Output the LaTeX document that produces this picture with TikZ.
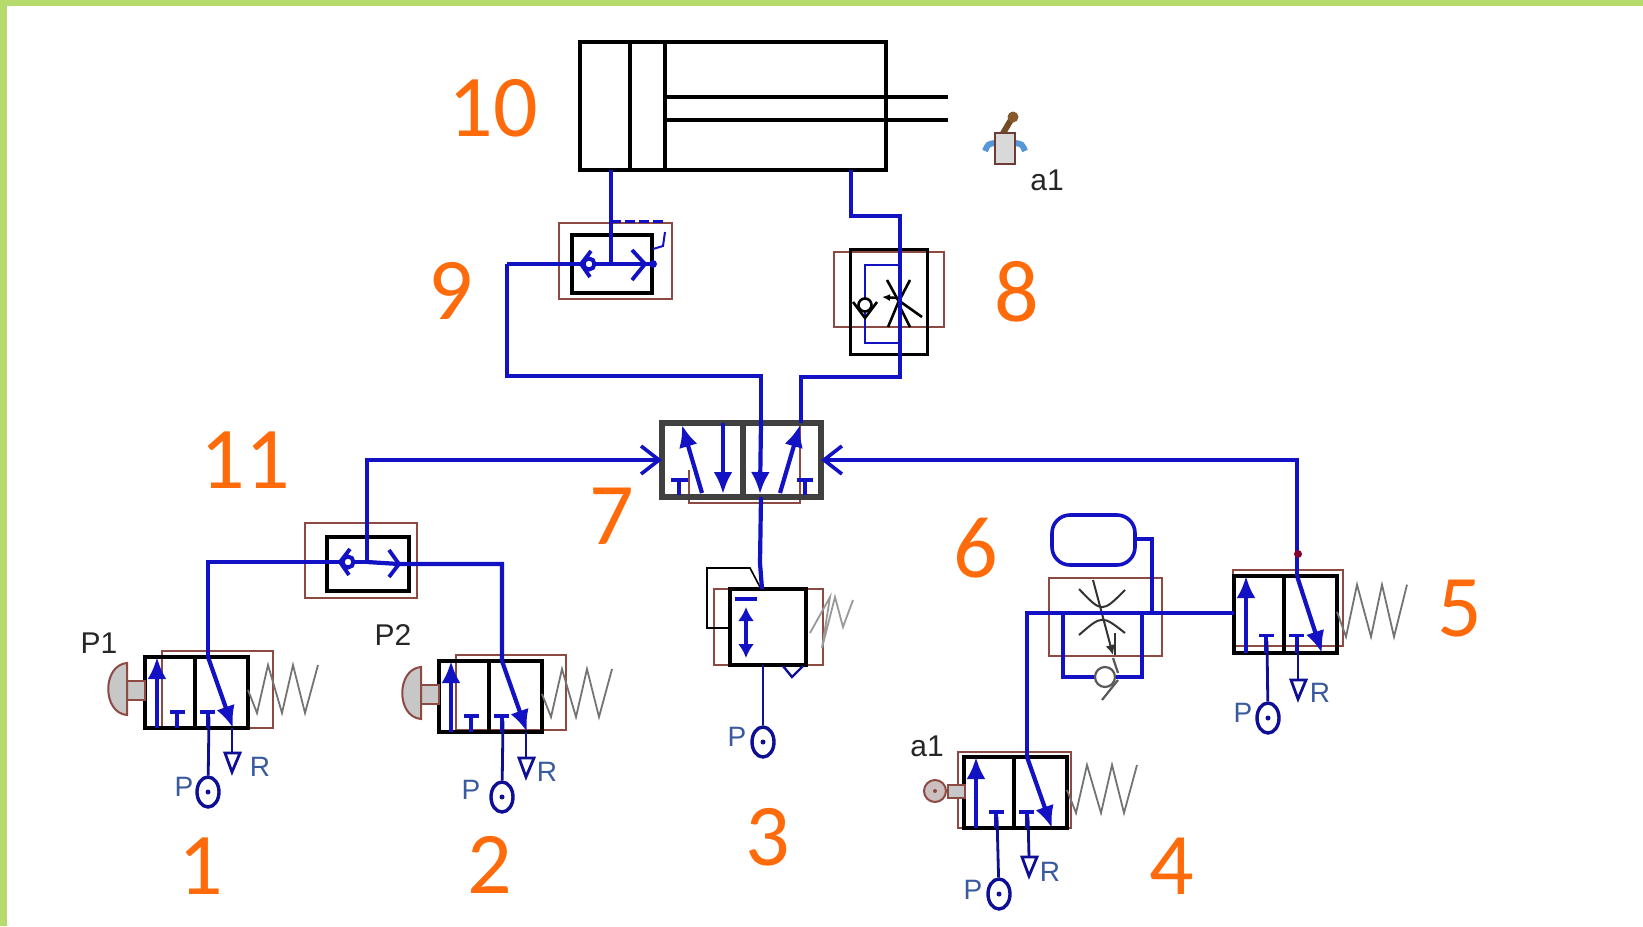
\documentclass[tikz,border=0pt]{standalone}
\usepackage{fontspec}
\setmainfont{Liberation Sans}
\newfontfamily\numfont{Carlito}
\usetikzlibrary{arrows.meta,shapes.geometric}
\definecolor{pipeblue}{HTML}{1212C4}
\definecolor{darkblue}{HTML}{0F0F96}
\definecolor{labelblue}{HTML}{3A5AA0}
\definecolor{orangenum}{HTML}{FF6A0A}
\definecolor{redline}{HTML}{8C4A42}
\definecolor{greenedge}{HTML}{B6DB6C}
\tikzset{
  pipe/.style={draw=pipeblue,line width=2.1pt,line join=miter},
  thinpipe/.style={draw=pipeblue,line width=1.7pt},
  feed/.style={draw=darkblue,line width=1.4pt},
  blackbox/.style={draw=black,line width=2pt,inner sep=0pt,outer sep=0pt,anchor=north west},
  redbox/.style={draw=redline,line width=.7pt},
  flow/.style={draw=pipeblue,line width=2.1pt,-{Latex[length=11pt,width=9.5pt]}},
  barb/.style={-{Straight Barb[length=9pt,width=14pt,line width=1.8pt]}},
  spring/.style={draw=black!55,line width=.9pt,line join=miter},
  num/.style={text=orangenum,font=\numfont\fontsize{44}{44}\selectfont,inner sep=0pt},
  tag/.style={text=black!85,font=\fontsize{15}{15}\selectfont,inner sep=0pt},
  port/.style={text=labelblue,font=\fontsize{14}{14}\selectfont,inner sep=0pt},
  psrc/.style={shape=ellipse,draw=darkblue,line width=1.7pt,minimum width=11pt,minimum height=15pt,inner sep=0pt,fill=white},
  valve/.pic={
    \draw[black,line width=2.1pt] (12,0) rectangle (115,71) (62,0) -- (62,71);
    \draw[spring] (115,33) -- (124,56) -- (135,8) -- (149,56) -- (160,8) -- (172,56) -- (185,8);
    \draw[flow] (24,71) -- (24,0);
    \draw[flow] (75,0) -- (100,71);
    \draw[thinpipe] (44,71) -- (44,55) (37,55) -- (52,55);
    \draw[thinpipe] (75,71) -- (75,55) (67,55) -- (82,55);
    \coordinate (-out) at (75,0);
    \coordinate (-s1) at (45,60);
    \coordinate (-s2) at (76,60);
    \coordinate (-end) at (99,71);
  },
  exhaust/.pic={
    \draw[feed,fill=white] (-7,0) -- (8,0) -- (0,19) -- cycle;
    \coordinate (-top) at (0,0);
  },
  shuttle/.pic={
    \draw[pipeblue,line width=2pt,fill=white] (1,0) circle [radius=5.5];
    \draw[pipeblue,line width=1.9pt] (3,-13) -- (-7,0) -- (2,13);
  }
}
\begin{document}
\begin{tikzpicture}[x=0.5pt,y=-0.5pt]
\useasboundingbox (0,0) rectangle (1643,926);
\fill[white] (0,0) rectangle (1643,926);
\fill[greenedge] (0,0) rectangle (1643,6);
\fill[greenedge] (0,0) rectangle (7,926);

% cylinder 10
\node[blackbox,minimum width=153pt,minimum height=64pt] (cyl) at (580,42) {};
\draw[black,line width=2pt] (630,42) -- (630,170) (665,42) -- (665,170);
\coordinate (rodA) at (948,97);
\coordinate (rodB) at (948,120);
\draw[black,line width=2pt] (665,97) -- (rodA) (665,120) -- (rodB);
\coordinate (cylL) at (611,170);
\coordinate (cylR) at (851,170);

% sensor a1
\draw[brown!60!black,line width=3pt] (1002,135) -- (1012,118);
\fill[brown!70!black] (1013,117) circle [radius=5.5];
\draw[cyan!60!blue!70,line width=3pt] (995,143) .. controls (988,144) .. (985,151);
\draw[cyan!60!blue!70,line width=3pt] (1015,143) .. controls (1022,144) .. (1025,151);
\draw[redline!80!black,fill=black!15,line width=1pt] (995,133) rectangle (1015,164);
\node[tag] (la1) at (1047,180) {a1};

% element 9
\draw[redbox] (559,223) rectangle (672,299);
\node[blackbox,minimum width=40pt,minimum height=29pt] (n9) at (572,235) {};
\coordinate (n9j) at (611,264);
\coordinate (n9w) at (507,264);
\draw[pipe] (cylL) -- (n9j);
\draw[pipe] (n9w) -- (n9j) -- (652,264);
\pic at (588,264) {shuttle};
\draw[pipeblue,line width=1.9pt] (632,250) -- (645,264) -- (632,280);
\fill[pipeblue] (653,264) circle [radius=4];
\draw[pipeblue,line width=1.5pt,dashed,dash pattern=on 5pt off 2pt] (611,221) -- (665,221);
\draw[pipeblue,line width=1pt] (665,232) -- (663,246) -- (653,249);

% element 8
\draw[redbox] (834,252) rectangle (944,327);
\node[blackbox,minimum width=38.5pt,minimum height=52.5pt,line width=1.5pt] (n8) at (850,249) {};
\draw[thinpipe,line width=1.2pt] (900,265) -- (865,265) -- (865,343) -- (900,343);
\draw[black,line width=1.3pt] (887,280) -- (898,300) -- (922,317);
\draw[black,line width=1.3pt] (910,280) -- (898,303) -- (888,327);
\draw[black,line width=1.3pt] (898,303) -- (910,327);
\draw[black,line width=1.3pt,-{Latex[length=4pt,width=3.5pt]}] (897,298) -- (882,297);
\draw[black,line width=1.3pt] (853,302) -- (865,318) -- (877,302);
\draw[black,line width=1.3pt,fill=white] (865,305) circle [radius=6.5];

% element 7
\draw[redbox] (689,470) -- (689,503) -- (800,503) -- (800,423);
\node[blackbox,draw=black!75,line width=2.7pt,minimum width=79.5pt,minimum height=37pt] (n7) at (662,423) {};
\draw[black!75,line width=2.7pt] (743,423) -- (743,497);
\draw[flow] (702,493) -- (682,425);
\draw[flow] (723,423) -- (723,494);
\draw[flow] (780,493) -- (800,425);
\draw[thinpipe] (679,495) -- (679,480) (671,480) -- (688,480);
\draw[thinpipe] (805,495) -- (805,480) (797,480) -- (813,480);
\coordinate (n7a) at (761,423);
\coordinate (n7b) at (801,423);
\coordinate (n7p) at (761,497);

% pipes from 9 and 8 to 7
\draw[pipe] (n9w) -- (507,376) -| (n7a);
\draw[flow] (n7a) -- (760,494);
\draw[pipe] (cylR) |- (900,216) -- (900,377) -| (n7b);

% element 11
\draw[redbox] (305,523) rectangle (417,598);
\node[blackbox,minimum width=41pt,minimum height=27pt] (n11) at (327,537) {};
\coordinate (n11c) at (347,562);
\coordinate (n11j) at (367,562);

% valves 1 and 2
\draw[redbox] (162,651) rectangle (273,728);
\draw[redbox] (456,655) rectangle (566,730);
\pic (v1) at (133,657) {valve};
\pic (v2) at (427,661) {valve};
\draw[pipe] (v1-out) |- (n11c) -- (n11j);
\draw[pipe] (n11j) -- (399,564) -| (v2-out);
\pic at (n11c) {shuttle};
\draw[pipeblue,line width=1.9pt] (389,550) -- (399,564) -- (389,577);
\draw[pipe,barb] (n11j) |- (n7.west);

% button P1, P2
\foreach \ox/\oy in {108/663,402/667}{
  \begin{scope}[shift={(\ox,\oy)}]
    \draw[redline,fill=black!22,line width=1pt] (19,18) rectangle (37,37);
    \draw[redline,fill=black!22,line width=1pt] (19,0) .. controls (-6,2) and (-6,50) .. (19,52) -- cycle;
  \end{scope}
}
\node[tag] (lp1) at (99,643) {P1};
\node[tag] (lp2) at (393,635) {P2};

% supplies of 1, 2
\node[psrc] (P1) at (208,792) {};
\node[psrc] (P2) at (502,797) {};
\draw[feed] (v1-s2) -- (P1);
\draw[feed] (v2-s2) -- (P2);
\pic (R1) at (232,753) {exhaust};
\pic (R2) at (526,758) {exhaust};
\draw[feed] (v1-end) -- (R1-top);
\draw[feed] (v2-end) -- (R2-top);
\fill[darkblue] (P1) circle [radius=2.5] (P2) circle [radius=2.5];
\node[port] (pt1) at (184,787) {P};
\node[port] (rt1) at (260,767) {R};
\node[port] (pt2) at (471,790) {P};
\node[port] (rt2) at (547,772) {R};

% valve 3
\draw[redbox] (714,589) rectangle (823,665);
\node[blackbox,minimum width=38pt,minimum height=38pt] (n3) at (730,589) {};
\draw[black,line width=.8pt] (760,587) -- (750,568) -- (707,568) -- (707,628) -- (730,628);
\coordinate (n3t) at (762,589);
\coordinate (n3b) at (763,665);
\draw[pipe] (n7p) -- (760,563) -- (n3t);
\draw[pipeblue,line width=2.2pt] (735,599) -- (757,599);
\draw[pipeblue,line width=2.1pt,{Latex[length=7pt,width=8pt]}-{Latex[length=7pt,width=8pt]}] (746,607) -- (746,658);
\draw[draw=darkblue,line width=1.2pt] (783,666) -- (792,677) -- (803,666);
\draw[spring,draw=black!40] (810,633) -- (830,597) -- (822,648) -- (835,597) -- (843,627) -- (853,600);
\node[psrc] (P3) at (763,742) {};
\draw[feed] (n3b) -- (P3);
\fill[darkblue] (P3) circle [radius=2.5];
\node[port] (pt3) at (737,737) {P};

% element 6 and valves 4, 5
\node[draw=pipeblue,line width=1.8pt,rounded corners=9pt,minimum width=41.5pt,minimum height=25pt,inner sep=0pt,outer sep=0pt,anchor=north west] (acc) at (1052,515) {};
\draw[redbox] (1049,578) rectangle (1162,656);
\coordinate (tee) at (1152,613);
\draw[black!80,line width=1pt] (1079,589) .. controls (1102,613) .. (1125,590);
\draw[black!80,line width=1pt] (1079,635) .. controls (1102,615) .. (1125,633);
\draw[black!80,line width=1pt,-{Latex[length=5pt,width=5pt]}] (1093,580) -- (1113,655);
\draw[black!80,line width=1pt] (1115,633) -- (1115,655);
\draw[pipe] (1063,613) -- (1063,677) -- (1142,677) -- (1142,613);
\draw[black!65,line width=1.1pt,fill=white] (1105,677) circle [radius=10];
\draw[black!65,line width=1.1pt] (1113,658) -- (1118,673) (1118,680) -- (1102,700);

\draw[redbox] (958,752) rectangle (1071,828);
\draw[redbox] (1233,570) rectangle (1343,646);
\pic (v4) at (952,757) {valve};
\pic[yscale=1.085] (v5) at (1222,576) {valve};
\draw[pipe] (v4-out) |- (tee);
\draw[pipe] (tee) -- (1234,613);
\draw[pipe] (acc.east |- 0,539) -| (tee);
\draw[pipe,barb] (v5-out) |- (n7.east);
\fill[purple!70!black] (1298,554) circle [radius=4];

% roller a1
\draw[redline,fill=black!22,line width=1pt] (948,785) rectangle (965,798);
\draw[redline,fill=red!20!black!25,line width=1pt] (935,791) circle [radius=11];
\fill[redline] (935,791) circle [radius=2];
\node[tag] (la1b) at (927,746) {a1};

\node[psrc] (P4) at (999,894) {};
\node[psrc] (P5) at (1268,718) {};
\draw[feed] (v4-s1) -- (P4);
\draw[feed] (v5-s1) -- (P5);
\pic (R4) at (1029,857) {exhaust};
\pic (R5) at (1298,680) {exhaust};
\draw[feed] (v4-s2) -- (R4-top);
\draw[feed] (v5-s2) -- (R5-top);
\fill[darkblue] (P4) circle [radius=2.5] (P5) circle [radius=2.5];
\node[port] (pt4) at (973,890) {P};
\node[port] (rt4) at (1050,872) {R};
\node[port] (pt5) at (1243,713) {P};
\node[port] (rt5) at (1320,693) {R};

% numbers
\node[num] (t10) at (493,108) {10};
\node[num] (t9) at (451,291) {9};
\node[num] (t8) at (1017,292) {8};
\node[num] (t11) at (245,460) {11};
\node[num] (t7) at (612,516) {7};
\node[num] (t6) at (976,548) {6};
\node[num] (t5) at (1460,609) {5};
\node[num] (t1) at (201,866) {1};
\node[num] (t2) at (490,865) {2};
\node[num] (t3) at (768,837) {3};
\node[num] (t4) at (1172,866) {4};
\end{tikzpicture}
\end{document}
